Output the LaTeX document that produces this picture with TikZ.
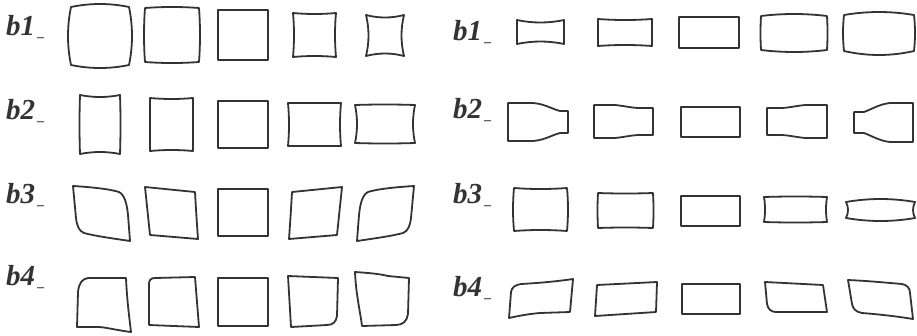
\documentclass[tikz,border=0pt]{standalone}
\usepackage{fontspec}
\setmainfont{Liberation Serif}
\definecolor{ink}{HTML}{333333}
\tikzset{
  shp/.style={draw=ink, line width=1.8pt, line join=round},
  lab/.style={anchor=base west, inner sep=0pt, text=ink, font=\fontsize{29}{29}\selectfont\bfseries\itshape}
}
% rectangle x1 y1 x2 y2 with outward bulges top right bottom left
\newcommand\qbox[8]{%
  \pgfmathsetmacro\qbxa{#1+(#3-#1)/3}\pgfmathsetmacro\qbxb{#1+2*(#3-#1)/3}%
  \pgfmathsetmacro\qbya{#2+(#4-#2)/3}\pgfmathsetmacro\qbyb{#2+2*(#4-#2)/3}%
  \pgfmathsetmacro\qbt{#2-(#5)*1.333}\pgfmathsetmacro\qbr{#3+(#6)*1.333}%
  \pgfmathsetmacro\qbb{#4+(#7)*1.333}\pgfmathsetmacro\qbl{#1-(#8)*1.333}%
  \draw[shp] (#1,#2) .. controls (\qbxa,\qbt) and (\qbxb,\qbt) .. (#3,#2)
    .. controls (\qbr,\qbya) and (\qbr,\qbyb) .. (#3,#4)
    .. controls (\qbxb,\qbb) and (\qbxa,\qbb) .. (#1,#4)
    .. controls (\qbl,\qbyb) and (\qbl,\qbya) .. cycle;}
\newcommand\lbl[4]{\node[lab] (#1) at (#2,#3) {#4\kern2pt{\fontsize{14}{14}\selectfont\upshape\bfseries\raisebox{-6pt}{–}}};}
\begin{document}
\begin{tikzpicture}[x=1pt,y=-1pt]
\useasboundingbox (0,0) rectangle (917,335);
% ---------- labels ----------
\lbl{L1}{6}{35}{b1}
\lbl{L2}{6}{119}{b2}
\lbl{L3}{6}{203}{b3}
\lbl{L4}{6}{285}{b4}
\lbl{R1}{453}{40}{b1}
\lbl{R2}{453}{118}{b2}
\lbl{R3}{453}{203}{b3}
\lbl{R4}{453}{296}{b4}
% ---------- left row 1 ----------
\qbox{71}{7}{129}{65}{3}{3}{3}{3}
\qbox{145}{8}{199}{62}{1}{1}{1}{1}
\qbox{218}{10}{268}{60}{0}{0}{0}{0}
\qbox{293}{13}{336}{57}{-1}{-1}{-1}{-1}
\qbox{366}{15}{404}{56}{-2.5}{-2.5}{-2.5}{-2.5}
% ---------- left row 2 ----------
\qbox{80}{95}{120}{154}{-2}{0.5}{-2}{0.5}
\qbox{150}{98}{193}{151}{-1}{0}{-1}{0}
\qbox{218}{101}{268}{148}{0}{0}{0}{0}
\qbox{288}{103}{341}{146}{0}{-1}{0}{-1}
\qbox{355}{105}{415}{143}{0.5}{-2}{0.5}{-2}
% ---------- left row 3 ----------
\draw[shp] (73,186) .. controls (90,187) and (110,189) .. (119,192)
  .. controls (125,195) and (127,205) .. (128,215) -- (130,241)
  .. controls (110,238) and (95,236) .. (84,233)
  .. controls (79,231) and (77,226) .. (76,218) -- cycle;
\draw[shp] (145,187) -- (195,192) .. controls (196,210) and (197,225) .. (198,239) -- (150,235) -- cycle;
\draw[shp] (218,189) rectangle (268,236);
\draw[shp] (342,187) -- (292,192) .. controls (291,210) and (290,225) .. (289,239) -- (337,235) -- cycle;
\draw[shp] (414,186) .. controls (397,187) and (377,189) .. (368,192)
  .. controls (362,195) and (360,205) .. (359,215) -- (357,241)
  .. controls (377,238) and (392,236) .. (403,233)
  .. controls (408,231) and (410,226) .. (411,218) -- cycle;
% ---------- left row 4 ----------
\draw[shp] (77,327) -- (78,292) .. controls (79,283) and (82,279) .. (88,278) -- (126,278)
  .. controls (127,300) and (129,315) .. (131,332)
  .. controls (115,330) and (105,327) .. (98,327) -- cycle;
\draw[shp] (149,325) -- (149,284) .. controls (149,280) and (151,278) .. (155,278) -- (195,277) -- (199,327) -- cycle;
\draw[shp] (218,278) rectangle (268,326);
\draw[shp] (288,276) -- (338,278) -- (337,316) .. controls (336,322) and (333,325) .. (327,325) -- (291,327) -- cycle;
\draw[shp] (355,272) .. controls (370,273) and (380,274) .. (388,276) -- (409,278) -- (408,314)
  .. controls (407,321) and (403,325) .. (396,325) -- (362,326)
  .. controls (360,310) and (356,295) .. cycle;
% ---------- right row 1 ----------
\qbox{517}{20}{564}{44}{-2.5}{0}{-2.5}{0}
\qbox{598}{19}{652}{46}{-1}{0}{-1}{0}
\qbox{679}{17}{739}{48}{0}{0}{0}{0}
\qbox{761}{16}{827}{50}{2}{0.5}{2}{0.5}
\qbox{844}{15}{914}{51}{3}{1}{4}{1}
% ---------- right row 2 ----------
\draw[shp] (508,103) -- (533,103) .. controls (545,104) and (552,109) .. (560,111) -- (568,111)
  -- (568,133) -- (560,133) .. controls (552,135) and (545,140) .. (533,141) -- (508,141) -- cycle;
\draw[shp] (594,105) -- (615,105) .. controls (625,106) and (632,108) .. (640,108) -- (653,108)
  -- (653,135) -- (640,135) .. controls (632,135) and (625,137) .. (615,138) -- (594,138) -- cycle;
\draw[shp] (681,107) rectangle (740,137);
\draw[shp] (767,108) -- (780,108) .. controls (788,108) and (795,106) .. (805,105) -- (827,105)
  -- (827,138) -- (805,138) .. controls (795,137) and (788,135) .. (780,135) -- (767,135) -- cycle;
\draw[shp] (854,112) -- (864,112) .. controls (872,109) and (880,104) .. (890,103) -- (913,103)
  -- (913,142) -- (890,142) .. controls (880,141) and (872,136) .. (864,133) -- (854,133) -- cycle;
% ---------- right row 3 ----------
\qbox{514}{188}{567}{231}{-1}{1}{-1}{1}
\qbox{598}{193}{653}{228}{-0.5}{0.5}{-0.5}{0.5}
\qbox{681}{196}{740}{226}{0}{0}{0}{0}
\qbox{764}{197}{827}{222}{0.5}{-1}{0.5}{-1}
\qbox{846}{202}{915}{218}{3}{-2}{3}{-2}
% ---------- right row 4 ----------
\draw[shp] (509,318) -- (511,292) .. controls (512,287) and (515,285) .. (521,284)
  .. controls (540,283) and (560,281) .. (573,279) -- (570,312) -- (540,313)
  .. controls (528,314) and (518,316) .. cycle;
\draw[shp] (597,285) -- (657,282) -- (656,312) -- (595,316) -- cycle;
\draw[shp] (682,284) rectangle (740,314);
\draw[shp] (765,282) -- (823,285) -- (827,312) -- (776,312) .. controls (771,312) and (768,309) .. (767,304) -- cycle;
\draw[shp] (848,280) .. controls (870,281) and (890,283) .. (902,284)
  .. controls (907,285) and (910,288) .. (910,293) -- (913,319)
  .. controls (895,316) and (875,314) .. (862,313)
  .. controls (856,312) and (853,309) .. (852,304) -- cycle;
\end{tikzpicture}
\end{document}
